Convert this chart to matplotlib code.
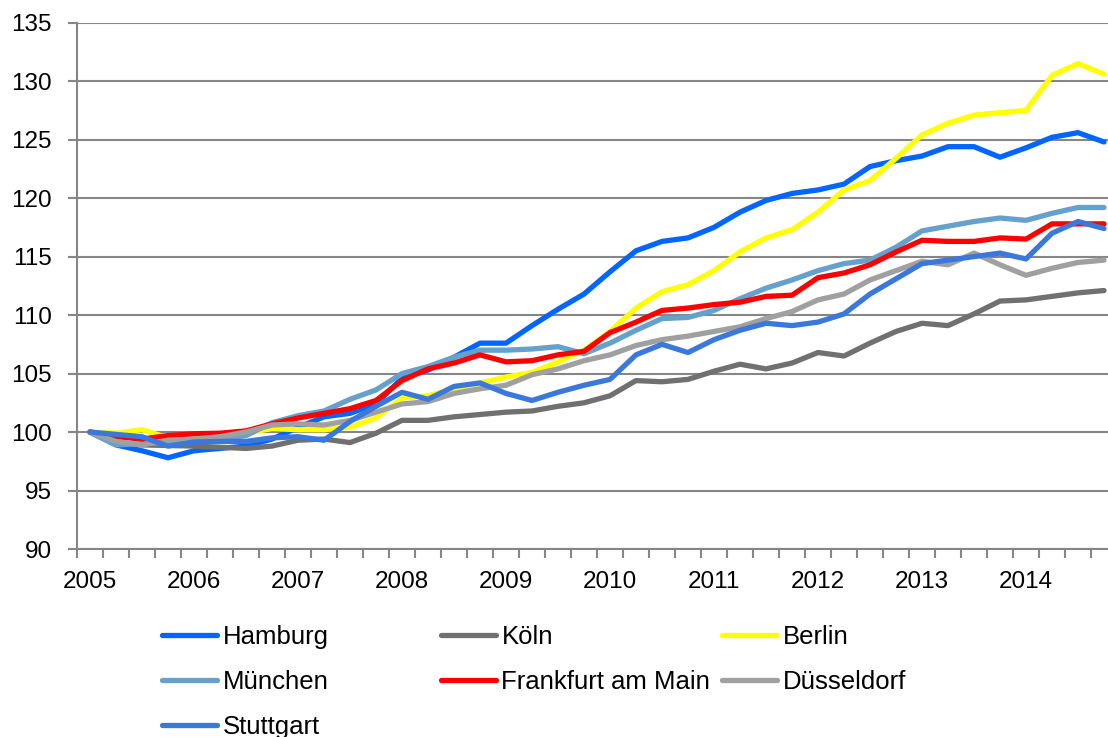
import matplotlib
matplotlib.use("Agg")
import matplotlib.pyplot as plt

plt.rcParams['font.family'] = ['Liberation Sans', 'DejaVu Sans']

# quarterly index values, 2005 Q1 = 100
years = ['2005', '2006', '2007', '2008', '2009', '2010', '2011', '2012', '2013', '2014']

hamburg = [100, 98.9, 98.4, 97.8, 98.4, 98.6, 98.8, 99.4, 100.4, 101.3,
           101.6, 102.4, 104.6, 105.3, 106.4, 107.6, 107.6, 109.1, 110.5, 111.8,
           113.7, 115.5, 116.3, 116.6, 117.5, 118.8, 119.8, 120.4, 120.7, 121.2,
           122.7, 123.2, 123.6, 124.4, 124.4, 123.5, 124.3, 125.2, 125.6, 124.8]
koeln = [100, 99.1, 98.9, 98.85, 98.8, 98.7, 98.6, 98.8, 99.3, 99.4,
         99.1, 99.9, 101.0, 101.0, 101.3, 101.5, 101.7, 101.8, 102.2, 102.5,
         103.1, 104.4, 104.3, 104.5, 105.2, 105.8, 105.4, 105.9, 106.8, 106.5,
         107.6, 108.6, 109.3, 109.1, 110.1, 111.2, 111.3, 111.6, 111.9, 112.1]
berlin = [100, 99.9, 100.2, 99.5, 99.6, 99.7, 99.9, 100.3, 100.2, 100.2,
          100.4, 101.2, 102.9, 103.1, 103.7, 104.2, 104.7, 105.1, 106.0, 107.0,
          108.6, 110.6, 112.0, 112.6, 113.8, 115.4, 116.6, 117.3, 118.8, 120.7,
          121.5, 123.4, 125.4, 126.4, 127.1, 127.3, 127.5, 130.5, 131.5, 130.6]
muenchen = [100, 98.9, 99.0, 99.1, 99.2, 99.4, 99.7, 100.8, 101.4, 101.8,
            102.8, 103.6, 105.0, 105.6, 106.4, 107.0, 107.0, 107.1, 107.3, 106.7,
            107.6, 108.7, 109.7, 109.8, 110.4, 111.4, 112.3, 113.0, 113.8, 114.4,
            114.7, 115.8, 117.2, 117.6, 118.0, 118.3, 118.1, 118.7, 119.2, 119.2]
frankfurt = [100, 99.6, 99.4, 99.7, 99.85, 99.9, 100.1, 100.7, 101.2, 101.6,
             102.0, 102.7, 104.4, 105.4, 105.9, 106.6, 106.0, 106.1, 106.6, 106.9,
             108.5, 109.4, 110.4, 110.6, 110.9, 111.1, 111.6, 111.7, 113.2, 113.6,
             114.3, 115.4, 116.4, 116.3, 116.3, 116.6, 116.5, 117.8, 117.8, 117.8]
duesseldorf = [100, 99.2, 98.9, 99.3, 99.4, 99.6, 100.0, 100.6, 100.7, 100.6,
               101.0, 101.7, 102.4, 102.6, 103.3, 103.7, 104.0, 104.9, 105.4, 106.1,
               106.6, 107.4, 107.9, 108.2, 108.6, 109.0, 109.7, 110.3, 111.3, 111.8,
               113.0, 113.8, 114.6, 114.3, 115.3, 114.3, 113.4, 114.0, 114.5, 114.7]
stuttgart = [100, 99.8, 99.6, 98.8, 99.15, 99.2, 99.2, 99.5, 99.6, 99.3,
             100.9, 102.2, 103.4, 102.8, 103.9, 104.2, 103.3, 102.7, 103.4, 104.0,
             104.5, 106.6, 107.5, 106.8, 107.9, 108.7, 109.3, 109.1, 109.4, 110.1,
             111.8, 113.1, 114.4, 114.7, 115.0, 115.3, 114.8, 117.0, 118.0, 117.4]

series = [
    ('Hamburg', hamburg, '#0066ff'),
    ('Köln', koeln, '#707070'),
    ('Berlin', berlin, '#ffff00'),
    ('München', muenchen, '#66a0cc'),
    ('Frankfurt am Main', frankfurt, '#ff0000'),
    ('Düsseldorf', duesseldorf, '#a0a0a0'),
    ('Stuttgart', stuttgart, '#3b78dc'),
]

W, H = 1108, 737
fig = plt.figure(figsize=(W / 100, H / 100), dpi=100)
ax = fig.add_axes([77 / W, (H - 549) / H, 1040 / W, (549 - 22.7) / H])

x = list(range(len(hamburg)))
lines = {}
for name, vals, col in series:
    ln, = ax.plot(x, vals, color=col, lw=3.8, label=name,
                  solid_joinstyle='round', solid_capstyle='round')
    lines[name] = ln

ax.set_xlim(-0.5, len(x) - 0.5)
ax.set_ylim(90, 135)
ax.set_yticks(range(90, 136, 5))
ax.yaxis.grid(True, color='#868686', lw=1.5)
ax.set_axisbelow(True)

ax.set_xticks(range(0, len(x), 4))
ax.set_xticklabels(years)
ax.set_xticks([i - 0.5 for i in range(len(x) + 1)], minor=True)
ax.tick_params(axis='x', which='major', length=0, pad=16, labelsize=17.5)
ax.tick_params(axis='x', which='minor', length=6.5, width=1.5, color='#868686')
ax.tick_params(axis='y', length=6.5, width=1.5, color='#868686', pad=11.5, labelsize=17.5)

for s in ['top', 'right']:
    ax.spines[s].set_visible(False)
for s in ['left', 'bottom']:
    ax.spines[s].set_color('#868686')
    ax.spines[s].set_linewidth(1.5)

# legend laid out row-wise in three columns
cols = [(['Hamburg', 'München', 'Stuttgart'], 162),
        (['Köln', 'Frankfurt am Main'], 441),
        (['Berlin', 'Düsseldorf'], 722)]
for names, px in cols:
    leg = fig.legend([lines[n] for n in names], names, loc='upper left',
                     bbox_to_anchor=(px / W, 1 - 625 / H), frameon=False,
                     fontsize=18.5, borderpad=0, borderaxespad=0,
                     handlelength=2.15, handletextpad=0.2, labelspacing=0.82)

fig.savefig('out.png', dpi=100)
